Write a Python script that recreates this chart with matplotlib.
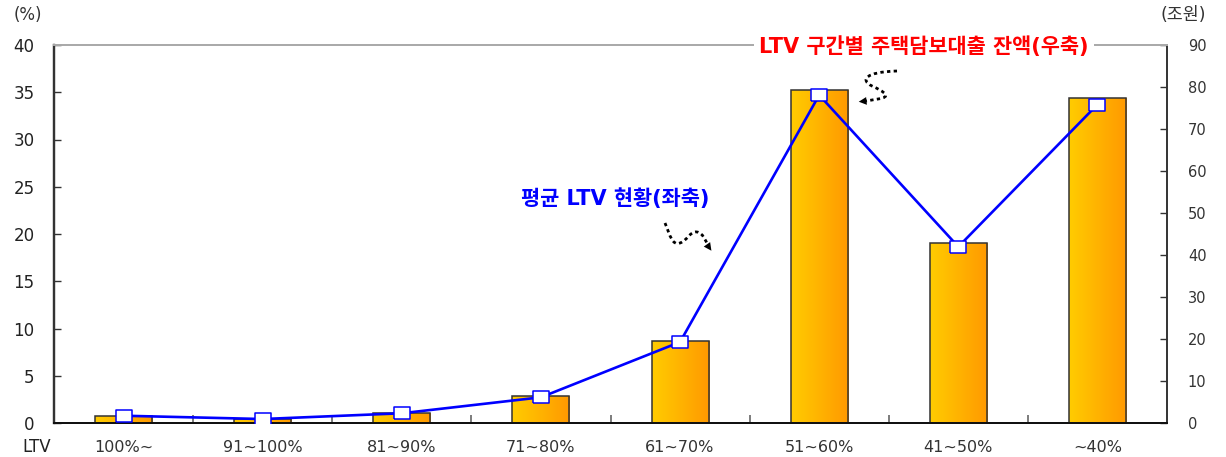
import numpy as np
import matplotlib
matplotlib.use('Agg')
import matplotlib.pyplot as plt
from matplotlib.colors import LinearSegmentedColormap
from matplotlib.path import Path
from matplotlib.patches import PathPatch, FancyArrowPatch

plt.rcParams['font.family'] = ['DejaVu Sans', 'Noto Sans CJK KR']

categories = ['100%~', '91~100%', '81~90%', '71~80%', '61~70%', '51~60%', '41~50%', '~40%']
# 주택담보대출 잔액 (조원, 우축)
balance = [1.7, 0.95, 2.3, 6.4, 19.5, 79.3, 42.8, 77.4]
# 평균 LTV (%, 좌축)
avg_ltv = [0.77, 0.42, 1.03, 2.72, 8.57, 34.7, 18.65, 33.7]

left_ticks = [0, 5, 10, 15, 20, 25, 30, 35, 40]
right_ticks = [0, 10, 20, 30, 40, 50, 60, 70, 80, 90]

W, H = 1226, 457
fig = plt.figure(figsize=(W / 100, H / 100), dpi=100)
ax = fig.add_axes([54 / W, 1 - 423 / H, (1167 - 54) / W, (423 - 45) / H])
ax2 = ax.twinx()

x = np.arange(len(categories))

# bars with a yellow -> orange horizontal gradient
grad = LinearSegmentedColormap.from_list('bar', ['#FFCC00', '#FF9900'])
bars = ax.bar(x, balance, width=0.41, facecolor='none', edgecolor='#333333',
              linewidth=1.1, zorder=3)
g = np.linspace(0, 1, 256).reshape(1, -1)
for b in bars:
    x0, y0 = b.get_x(), b.get_y()
    im = ax.imshow(g, cmap=grad, aspect='auto', zorder=2,
                   extent=[x0, x0 + b.get_width(), y0, y0 + b.get_height()])
    im.set_clip_path(b)
ax.set_xlim(-0.5, len(categories) - 0.5)
ax.set_ylim(0, 90)

# average LTV line
verts = [(-1.35, -1), (1.35, -1), (1.35, 1), (-1.35, 1), (-1.35, -1)]
ax2.plot(x, avg_ltv, color='#0000FF', linewidth=1.9, marker=verts,
         markersize=11.5, markerfacecolor='white', markeredgecolor='#0000FF',
         markeredgewidth=1.1, zorder=5)
ax2.set_ylim(0, 40)

# axes: bars on the right scale, line on the left scale
ax.yaxis.tick_right()
ax2.yaxis.tick_left()
ax.set_yticks(right_ticks)
ax2.set_yticks(left_ticks)
ax.tick_params(axis='y', direction='in', length=5, width=1, color='#333333',
               labelsize=10.5, labelcolor='#333333', pad=15)
ax2.tick_params(axis='y', direction='in', length=5, width=1, color='#333333',
                labelsize=12, labelcolor='#222222', pad=14)

ax.set_xticks(x[:-1] + 0.5)
ax.set_xticklabels([])
ax.set_xticks(x, minor=True)
ax.set_xticklabels(categories, minor=True)
ax.tick_params(axis='x', which='major', direction='in', length=6, width=1.2,
               color='#666666')
ax.tick_params(axis='x', which='minor', length=0, pad=12, labelsize=11.5,
               labelcolor='#333333')
ax2.tick_params(axis='x', which='both', length=0, labelbottom=False)

for a in (ax, ax2):
    a.spines['top'].set_color('#aaaaaa')
    a.spines['top'].set_linewidth(1.4)
    a.spines['left'].set_color('#333333')
    a.spines['left'].set_linewidth(1.6)
    a.spines['right'].set_color('#333333')
    a.spines['right'].set_linewidth(1.2)
    a.spines['bottom'].set_color('#111111')
    a.spines['bottom'].set_linewidth(1.4)

def fx(px):
    return px / W

def fy(py):
    return 1 - py / H

fig.text(fx(28), fy(15), '(%)', ha='center', va='center', fontsize=12, color='#333333')
fig.text(fx(1183), fy(15), '(조원)', ha='center', va='center', fontsize=12.5, color='#333333')
fig.text(fx(37), fy(447), 'LTV', ha='center', va='center', fontsize=12, color='#222222')

fig.text(fx(924), fy(47), 'LTV 구간별 주택담보대출 잔액(우축)', ha='center', va='center',
         fontsize=15, fontweight='bold', color='#FF0000',
         bbox=dict(facecolor='white', edgecolor='none', pad=4))
fig.text(fx(615), fy(199), '평균 LTV 현황(좌축)', ha='center', va='center',
         fontsize=15, fontweight='bold', color='#0000FF')

# dotted squiggle arrows pointing at the series
def squiggle(pts, codes, tip_from, tip_to):
    p = Path([(fx(a), fy(b)) for a, b in pts], codes)
    fig.add_artist(PathPatch(p, fill=False, linestyle=(0, (1.2, 1.2)), linewidth=2,
                             edgecolor='black', transform=fig.transFigure))
    fig.add_artist(FancyArrowPatch(
        (fx(tip_from[0]), fy(tip_from[1])), (fx(tip_to[0]), fy(tip_to[1])),
        transform=fig.transFigure, arrowstyle='-|>', mutation_scale=14,
        color='black', linewidth=0))

C4 = Path.CURVE4
squiggle([(897, 71), (865, 72), (860, 80), (872, 86),
          (885, 92), (892, 97), (878, 99), (866, 101)],
         [Path.MOVETO, C4, C4, C4, C4, C4, C4, Path.LINETO],
         (866, 101), (856, 102))
squiggle([(665, 223), (670, 235), (672, 246), (680, 243),
          (688, 240), (690, 231), (697, 232), (703, 233), (705, 240), (708, 245)],
         [Path.MOVETO, C4, C4, C4, C4, C4, C4, C4, C4, C4],
         (706, 243), (713, 253))

fig.savefig('out.png', dpi=100)
